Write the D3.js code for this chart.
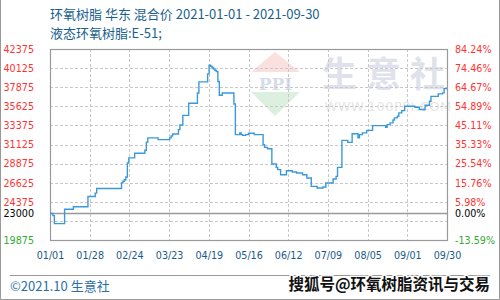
<!DOCTYPE html>
<html><head><meta charset="utf-8">
<script src="https://cdnjs.cloudflare.com/ajax/libs/d3/7.8.5/d3.min.js"></script>
<style>
html,body{margin:0;padding:0;background:#fff;}
svg{display:block;}
</style>
</head><body>
<svg id="c" width="500" height="300"></svg>
<script>
const titleLine1 = "环氧树脂 华东 混合价 2021-01-01 - 2021-09-30";
const titleLine2 = "液态环氧树脂:E-51;";
const footerText = "©2021.10 生意社";
const sourceText = "搜狐号@环氧树脂资讯与交易";

const dates = ["01-01","01-03","01-04","01-11","01-17","01-27","02-01","02-02","02-19","02-20","02-21","02-22","02-23","02-24","02-28",
"03-07","03-08","03-09","03-16","03-24","03-25","03-26","03-30","03-31","04-02","04-06","04-12","04-13","04-19","04-20",
"04-21","04-22","04-23","04-24","04-25","04-26","04-27","04-29","05-07","05-08","05-11","05-12","05-13","05-15","05-17",
"05-21","05-27","05-28","05-30","06-02","06-05","06-06","06-08","06-12","06-16","06-19","06-23","06-26","06-29","07-03",
"07-07","07-09","07-14","07-16","07-17","07-20","07-24","07-27","07-31","08-01","08-03","08-06","08-10","08-19","08-20",
"08-22","08-24","08-25","08-27","08-28","08-30","09-01","09-08","09-11","09-15","09-18","09-19","09-24","09-27","09-28","09-30"];
const prices = [23000,22750,21800,23500,23800,25000,25400,25950,26600,26800,26975,27300,28950,29550,30100,
30450,31400,31900,31700,31900,32130,32370,32880,33430,34560,35980,37200,38500,39450,40460,
40350,40190,40015,39840,39720,38540,36920,37200,35900,32290,32490,32290,32200,32290,32450,
32290,31100,30790,30630,28830,28430,28160,27570,28040,27890,27770,27570,27180,26190,26000,
26115,26590,27060,27370,28430,31610,31380,32400,31900,32290,32490,32790,33350,33150,33470,
33670,34020,34260,34450,34850,35120,35630,35510,35240,35740,36220,36800,37090,37210,37710,37710];

const xTickLabels = ["01/01","01/28","02/24","03/23","04/19","05/16","06/12","07/09","08/05","09/01","09/30"];
const yLeftTicks = [42375,40125,37875,35625,33375,31125,28875,26625,24375,23000,19875];
const gridValues = [42375,40125,37875,35625,33375,31125,28875,26625,24375,22125,19875];
const basePrice = 23000;
const yDomain = [19875, 42375];
const xDomain = ["2021-01-01","2021-09-30"];

const parse = d3.timeParse("%Y-%m-%d");
const data = dates.map((d,i)=>({date: parse("2021-"+d), v: prices[i]}));

const L=50, R=447, T=49, B=240;
const svg = d3.select("#c");
const x = d3.scaleTime().domain(xDomain.map(parse)).range([L,R]);
const y = d3.scaleLinear().domain(yDomain).range([B,T]);

const colorFor = v => v > basePrice ? "#ff3333" : (v < basePrice ? "#33aa33" : "#000");
const FONT = "'DejaVu Sans', sans-serif";
const CJK = "'Noto Sans CJK SC', sans-serif";

// outer border
svg.append("path").attr("d","M0.5,0 V299.5 H499.5 V0").attr("fill","none").attr("stroke","#999").attr("stroke-width",1);

// watermark
const wm = svg.append("g");
wm.append("path").attr("d","M275,52 L300,72 L251,72 Z").attr("fill","#fbe0e0");
wm.append("path").attr("d","M251,92 L300,92 L275,116 Z").attr("fill","#ddf0e0");
wm.append("text").attr("x",275.5).attr("y",90).attr("text-anchor","middle")
  .attr("font-family","'DejaVu Serif', serif").attr("font-weight","bold").attr("font-size",17)
  .attr("fill","#d6dcea").text("PPI");
wm.append("text").attr("x",388).attr("y",87).attr("text-anchor","middle")
  .attr("font-family",CJK).attr("font-weight","bold").attr("font-size",35).attr("letter-spacing",9)
  .attr("fill","#dfe2ec").text("生意社");
wm.append("text").attr("x",388).attr("y",111).attr("text-anchor","middle")
  .attr("font-family",FONT).attr("font-size",13).attr("letter-spacing",0.5)
  .attr("fill","#e6e6e6").text("WWW.100PPI.COM");

// grid
const xTicks = d3.range(11).map(i => new Date(x.domain()[0].getTime() + i*(x.domain()[1]-x.domain()[0])/10));
svg.append("g").selectAll("line").data(gridValues.slice(1, -1)).join("line")
  .attr("x1",L).attr("x2",R).attr("y1",d=>Math.round(y(d))+0.5).attr("y2",d=>Math.round(y(d))+0.5)
  .attr("stroke","#c8c8c8").attr("stroke-dasharray","3,2");
svg.append("g").selectAll("line").data(xTicks.slice(1,-1)).join("line")
  .attr("y1",T).attr("y2",B).attr("x1",d=>Math.round(x(d))+0.5).attr("x2",d=>Math.round(x(d))+0.5)
  .attr("stroke","#c8c8c8").attr("stroke-dasharray","3,2");

// baseline
svg.append("line").attr("x1",L).attr("x2",R).attr("y1",Math.round(y(basePrice))+0.5).attr("y2",Math.round(y(basePrice))+0.5)
  .attr("stroke","#999").attr("stroke-width",1.3);

// frame
svg.append("rect").attr("x",L+0.5).attr("y",T+0.5).attr("width",R-L).attr("height",B-T)
  .attr("fill","none").attr("stroke","#999").attr("stroke-width",1.2);

// line
svg.append("clipPath").attr("id","clp").append("rect").attr("x",L).attr("y",T).attr("width",R-L).attr("height",B-T);
const line = d3.line().x(d=>x(d.date)).y(d=>y(d.v)).curve(d3.curveStepAfter);
svg.append("path").datum(data).attr("clip-path","url(#clp)").attr("d",line)
  .attr("fill","none").attr("stroke","#3a9ad9").attr("stroke-width",1.4);

// left axis
const yl = svg.append("g").attr("transform",`translate(${L-16},0)`)
  .call(d3.axisLeft(y).tickValues(yLeftTicks).tickFormat(d=>String(d)).tickSize(0).tickPadding(0));
yl.select(".domain").remove();
yl.selectAll("text").attr("font-family",FONT).attr("font-size",9.6).attr("fill",d=>colorFor(d)).attr("dy","0.35em");

// right axis
const yr = svg.append("g").attr("transform",`translate(${R+8},0)`)
  .call(d3.axisRight(y).tickValues(yLeftTicks).tickFormat(d=>((d-basePrice)/basePrice*100).toFixed(2)+"%").tickSize(0).tickPadding(0));
yr.select(".domain").remove();
yr.selectAll("text").attr("font-family",FONT).attr("font-size",9.6).attr("fill",d=>colorFor(d)).attr("dy","0.35em");

// x axis
const xa = svg.append("g").attr("transform",`translate(0,${B})`)
  .call(d3.axisBottom(x).tickValues(xTicks).tickFormat((d,i)=>xTickLabels[i]).tickSize(0).tickPadding(12));
xa.select(".domain").remove();
xa.selectAll("text").attr("font-family",FONT).attr("font-size",9.6).attr("fill","#1a5a8a");

// titles
svg.append("text").attr("x",50).attr("y",19).attr("font-family",CJK).attr("font-size",13).attr("fill","#1a5f8e").text(titleLine1);
svg.append("text").attr("x",50).attr("y",38).attr("font-family",CJK).attr("font-size",13).attr("fill","#1a5f8e").text(titleLine2);

// footer
svg.append("line").attr("x1",10).attr("x2",490).attr("y1",275.5).attr("y2",275.5).attr("stroke","#999").attr("stroke-width",1);
svg.append("text").attr("x",10).attr("y",291).attr("font-family",CJK).attr("font-size",13).attr("fill","#2a6fa8").text(footerText);
svg.append("text").attr("x",490).attr("y",290).attr("text-anchor","end").attr("font-family",CJK).attr("font-weight","bold")
  .attr("font-size",15.5).attr("fill","#111").attr("stroke","#fff").attr("stroke-width",2.5).attr("paint-order","stroke").text(sourceText);
</script>
</body></html>
